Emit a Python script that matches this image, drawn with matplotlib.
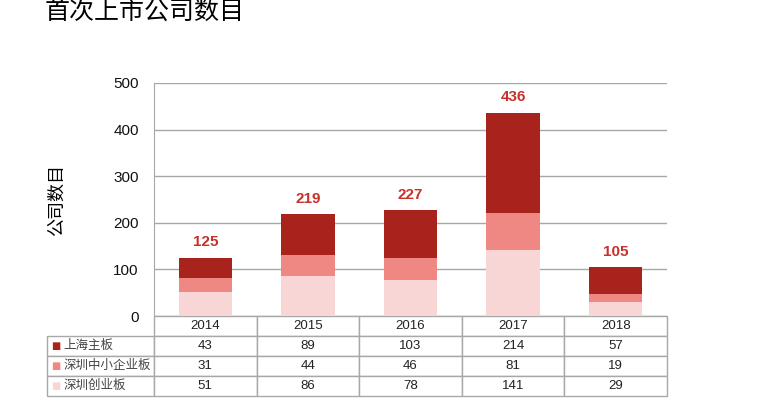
import matplotlib.pyplot as plt

plt.rcParams['font.family'] = ['Liberation Sans', 'Noto Sans CJK SC', 'DejaVu Sans']

years = ['2014', '2015', '2016', '2017', '2018']
sh_main = [43, 89, 103, 214, 57]
sz_sme = [31, 44, 46, 81, 19]
sz_gem = [51, 86, 78, 141, 29]
series_names = ['上海主板', '深圳中小企业板', '深圳创业板']
colors = ['#a8231b', '#ef8883', '#f8d6d6']

totals = [a + b + c for a, b, c in zip(sh_main, sz_sme, sz_gem)]

fig = plt.figure(figsize=(7.64, 4), dpi=100)
ax = fig.add_axes([154 / 764, 1 - 316 / 400, 513 / 764, 233 / 400])

x = range(len(years))
w = 0.52
ax.bar(x, sz_gem, w, color=colors[2], zorder=3)
ax.bar(x, sz_sme, w, bottom=sz_gem, color=colors[1], zorder=3)
bottom2 = [a + b for a, b in zip(sz_gem, sz_sme)]
ax.bar(x, sh_main, w, bottom=bottom2, color=colors[0], zorder=3)

for i, t in enumerate(totals):
    ax.text(i, t + 18, str(t), ha='center', va='bottom', color='#c8302a',
            fontsize=11, fontweight='bold')

ax.set_xlim(-0.5, len(years) - 0.5)
ax.set_ylim(0, 500)
ax.set_yticks([0, 100, 200, 300, 400, 500])
ax.yaxis.grid(True, color='#a8a8a8', linewidth=1)
ax.set_axisbelow(True)
ax.set_xticks([])
ax.tick_params(axis='y', length=0, labelsize=11, pad=11, colors='#111111')
for s in ['top', 'right', 'bottom']:
    ax.spines[s].set_visible(False)
ax.spines['left'].set_color('#a8a8a8')
ax.set_ylabel('公司数目', fontsize=13, labelpad=34)

# data table below (first column holds the series names)
rows = [sh_main, sz_sme, sz_gem]
cell_text = [[n] + [str(v) for v in vals] for n, vals in zip(series_names, rows)]
lbl_w = (154 - 47) / 513
tbl_h = 80 / 233
col_w = [lbl_w] + [1 / len(years)] * len(years)
tbl = ax.table(cellText=cell_text, colLabels=[''] + years, colWidths=col_w,
               cellLoc='center', bbox=[-lbl_w, -tbl_h, 1 + lbl_w, tbl_h])
tbl.auto_set_font_size(False)
tbl.set_fontsize(9.5)
for (r, c), cell in tbl.get_celld().items():
    cell.set_edgecolor('#a8a8a8')
    cell.set_linewidth(1)
    cell.get_text().set_color('#222222')
    if c == 0:
        cell._loc = 'left'
        cell.PAD = 0.15
        cell.get_text().set_ha('left')
        cell.get_text().set_color('#444444')
        cell.get_text().set_fontsize(9)
        if r == 0:
            cell.visible_edges = ''

row_h = tbl_h / 4
for i, col in enumerate(colors):
    yc = -row_h * (i + 1.5)
    ax.text(-lbl_w + 0.009, yc, '■', color=col, fontsize=7, ha='left', va='center',
            transform=ax.transAxes, family='DejaVu Sans')

fig.text(45 / 764, 1 - 12 / 400, '首次上市公司数目', fontsize=18, ha='left', va='center')

fig.savefig('out.png', dpi=100)
